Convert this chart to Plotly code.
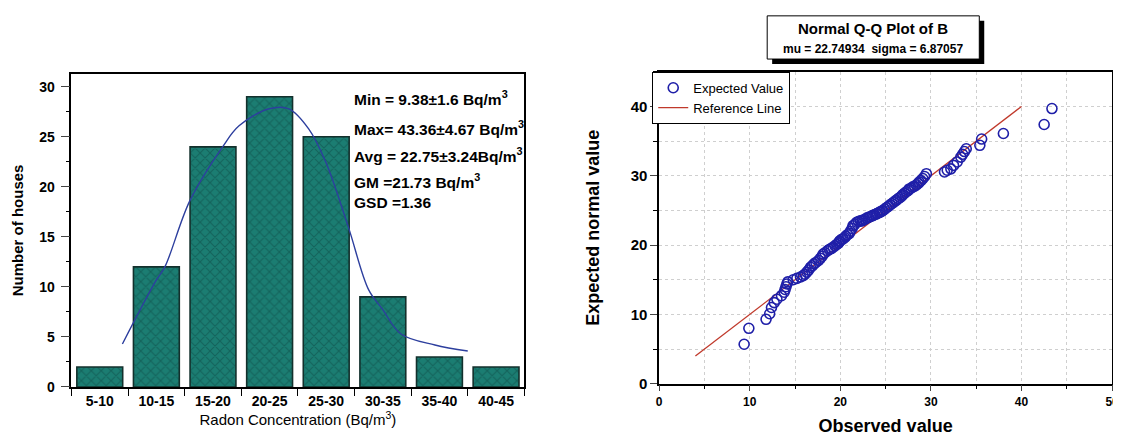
import plotly.graph_objects as go

# ---------------- data ----------------
categories = ["5-10", "10-15", "15-20", "20-25", "25-30", "30-35", "35-40", "40-45"]
counts = [2, 12, 24, 29, 25, 9, 3, 2]

# fitted curve (x in bin-index units)
fit_x = [0.40, 0.99, 1.15, 1.59, 2.17, 2.46, 2.99, 3.34, 3.69, 3.99, 4.39, 4.75, 4.99, 5.32, 5.92, 6.50]
fit_y = [4.3, 10.6, 12.0, 18.6, 24.0, 26.1, 27.8, 27.8, 25.8, 22.5, 16.0, 9.7, 7.8, 5.3, 4.2, 3.6]

stats_lines = [
    "Min = 9.38±1.6 Bq/m<sup>3</sup>",
    "Max= 43.36±4.67 Bq/m<sup>3</sup>",
    "Avg = 22.75±3.24Bq/m<sup>3</sup>",
    "GM =21.73 Bq/m<sup>3</sup>",
    "GSD =1.36",
]

observed = [
    9.38, 9.9,
    11.8, 12.2, 12.4, 12.7, 13.0, 13.5, 13.8, 13.9, 14.0, 14.1, 14.2, 14.8,
    15.2, 15.6, 15.9, 16.1, 16.3, 16.5, 16.7, 16.9, 17.1, 17.3, 17.6, 17.8,
    18.0, 18.1, 18.3, 18.6, 18.8, 19.0, 19.2, 19.4, 19.6, 19.8, 19.9, 19.95,
    20.1, 20.3, 20.5, 20.6, 20.8, 21.0, 21.1, 21.3, 21.4, 21.6, 21.8, 22.0,
    22.2, 22.4, 22.5, 22.7, 22.9, 23.1, 23.3, 23.5, 23.6, 23.8, 24.0, 24.1,
    24.3, 24.4, 24.6, 24.7, 24.9,
    25.1, 25.3, 25.5, 25.7, 25.9, 26.1, 26.2, 26.4, 26.6, 26.8, 26.9, 27.1,
    27.3, 27.5, 27.6, 27.8, 28.0, 28.2, 28.4, 28.6, 28.7, 28.9, 29.1, 29.3, 29.5,
    31.5, 31.8, 32.2, 32.5, 32.9, 33.3, 33.5, 33.7, 33.9,
    35.4, 35.6, 38.0,
    42.5, 43.36,
]
expected = [
    5.7, 8.0,
    9.3, 10.1, 11.0, 11.7, 12.2, 12.7, 13.2, 13.6, 14.0, 14.4, 14.7, 15.0,
    15.2, 15.4, 15.6, 15.8, 16.1, 16.4, 16.8, 17.0, 17.3, 17.5, 17.8, 18.1,
    18.4, 18.7, 18.9, 19.2, 19.4, 19.5, 19.7, 19.9, 20.1, 20.3, 20.5, 20.6,
    20.8, 20.9, 21.1, 21.3, 21.5, 21.7, 22.0, 22.4, 22.8, 23.0, 23.3, 23.4,
    23.5, 23.5, 23.6, 23.7, 23.9, 24.0, 24.1, 24.2, 24.3, 24.4, 24.5, 24.6,
    24.7, 24.8, 24.9, 25.0, 25.2,
    25.4, 25.6, 25.8, 26.0, 26.2, 26.4, 26.5, 26.7, 26.9, 27.1, 27.3, 27.5,
    27.7, 27.9, 28.1, 28.2, 28.4, 28.5, 28.7, 28.9, 29.1, 29.3, 29.6, 29.9, 30.3,
    30.55, 30.8, 31.0, 31.5, 32.0, 32.7, 33.1, 33.5, 33.9,
    34.4, 35.3, 36.1,
    37.4, 39.7,
]
ref_x = [4, 40]
ref_y = [4, 40]

title_main = "Normal Q-Q Plot of B"
title_sub = "mu = 22.74934  sigma = 6.87057"

# ---------------- figure ----------------
W, H = 1121, 440
FONT = "Arial, Liberation Sans, sans-serif"

def px_x(p):
    return p / W

def px_y(p):
    return 1 - p / H

fig = go.Figure()

fig.add_trace(go.Bar(
    x=list(range(len(categories))), y=counts,
    marker=dict(
        color="#1b7d72",
        line=dict(color="#13302c", width=1.6),
        pattern=dict(shape="x", fgcolor="#0e4a45", bgcolor="#1b7d72", size=7, solidity=0.3),
    ),
    width=0.81, showlegend=False, xaxis="x", yaxis="y",
))
fig.add_trace(go.Scatter(
    x=fit_x, y=fit_y, mode="lines", line=dict(color="#2d3f9e", width=1.4, shape="spline"),
    showlegend=False, xaxis="x", yaxis="y",
))

fig.add_trace(go.Scatter(
    x=ref_x, y=ref_y, mode="lines", name="Reference Line",
    line=dict(color="#c0392b", width=1.3), xaxis="x2", yaxis="y2",
))
fig.add_trace(go.Scatter(
    x=observed, y=expected, mode="markers", name="Expected Value",
    marker=dict(symbol="circle-open", size=10, color="#1f1fa8", line=dict(width=1.6)),
    xaxis="x2", yaxis="y2",
))

axis_line = dict(showline=True, linecolor="black", linewidth=1.5, mirror=True, zeroline=False)

fig.update_layout(
    width=W, height=H,
    margin=dict(l=0, r=0, t=0, b=0),
    paper_bgcolor="white", plot_bgcolor="white",
    font=dict(family=FONT, color="black"),
    bargap=0.19,
    xaxis=dict(
        domain=[px_x(61), px_x(518)], range=[-0.5, 7.5],
        tickvals=list(range(len(categories))), ticktext=categories,
        ticks="", tickfont=dict(size=14, family=FONT, weight="bold"),
        minor=dict(tick0=0.5, dtick=1, ticks="outside", ticklen=7, tickcolor="black", tickwidth=1.3),
        showgrid=False, anchor="y",
        title=dict(text="Radon Concentration (Bq/m<sup>3</sup>)", font=dict(size=15, family=FONT), standoff=5),
        **axis_line,
    ),
    yaxis=dict(
        domain=[px_y(386), px_y(67)], range=[0, 31.3],
        tickvals=[0, 5, 10, 15, 20, 25, 30], ticks="outside", ticklen=9, tickwidth=1.3,
        minor=dict(dtick=2.5, tick0=0, ticks="outside", ticklen=4, tickcolor="black"),
        tickfont=dict(size=14, family=FONT, weight="bold"), showgrid=False, anchor="x",
        ticklabelstandoff=3,
        title=dict(text="Number of houses", font=dict(size=15, family=FONT, weight="bold"), standoff=12),
        **axis_line,
    ),
    xaxis2=dict(
        domain=[px_x(654), px_x(1111)], range=[0, 50],
        tickvals=[0, 10, 20, 30, 40, 50], ticks="outside", ticklen=6, tickwidth=1.3,
        minor=dict(dtick=5, tick0=0, ticks="outside", ticklen=4, tickcolor="black",
                   showgrid=True, gridcolor="#cfcfcf", griddash="dot", gridwidth=1),
        showgrid=True, gridcolor="#cfcfcf", griddash="dot", gridwidth=1,
        tickfont=dict(size=12, family=FONT, weight="bold"), anchor="y2",
        title=dict(text="Observed value", font=dict(size=18, family=FONT, weight="bold"), standoff=12),
        **axis_line,
    ),
    yaxis2=dict(
        domain=[px_y(382.7), px_y(65)], range=[0, 45],
        tickvals=[0, 10, 20, 30, 40], ticks="outside", ticklen=7, tickwidth=1.3,
        minor=dict(dtick=5, tick0=0, ticks="outside", ticklen=4, tickcolor="black",
                   showgrid=True, gridcolor="#cfcfcf", griddash="dot", gridwidth=1),
        showgrid=True, gridcolor="#cfcfcf", griddash="dot", gridwidth=1,
        tickfont=dict(size=15, family=FONT, weight="bold"), anchor="x2",
        title=dict(text="Expected normal value", font=dict(size=18, family=FONT, weight="bold"), standoff=26),
        **axis_line,
    ),
    legend=dict(
        x=px_x(647), y=px_y(65), xanchor="left", yanchor="top",
        bgcolor="white", bordercolor="black", borderwidth=1,
        font=dict(size=13, family=FONT), traceorder="reversed",
        tracegroupgap=0, itemwidth=30,
    ),
)

# stats annotations on the histogram
stat_y = [92, 122, 150, 176, 198]
for txt, yy in zip(stats_lines, stat_y):
    fig.add_annotation(
        text="<b>" + txt + "</b>", x=px_x(344), y=px_y(yy), xref="paper", yref="paper",
        xanchor="left", yanchor="middle", showarrow=False,
        font=dict(size=15.5, family=FONT, color="black"),
    )

# title box with drop shadow
fig.add_shape(type="rect", xref="paper", yref="paper",
              x0=px_x(768), x1=px_x(982), y0=px_y(57), y1=px_y(13),
              fillcolor="black", line=dict(width=0))
fig.add_shape(type="rect", xref="paper", yref="paper",
              x0=px_x(763), x1=px_x(977), y0=px_y(52), y1=px_y(8),
              fillcolor="white", line=dict(color="black", width=1))
fig.add_annotation(text="<b>" + title_main + "</b>", x=px_x(870), y=px_y(21), xref="paper", yref="paper",
                   showarrow=False, xanchor="center", yanchor="middle",
                   font=dict(size=15, family=FONT, color="black"))
fig.add_annotation(text="<b>" + title_sub + "</b>", x=px_x(870), y=px_y(42), xref="paper", yref="paper",
                   showarrow=False, xanchor="center", yanchor="middle",
                   font=dict(size=12, family=FONT, color="black"))

fig.write_html("out.html")
